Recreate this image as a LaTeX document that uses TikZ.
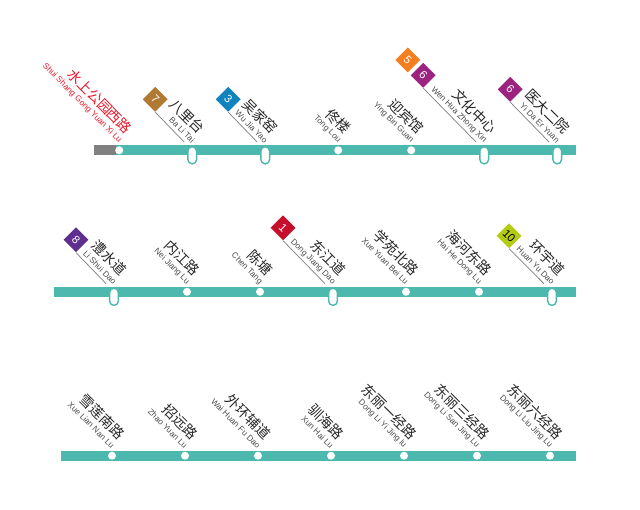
\documentclass[tikz,border=0pt]{standalone}
\usepackage{fontspec}
\setmainfont{Liberation Sans}
\newfontfamily\cnfont{Noto Sans CJK SC}
\usetikzlibrary{positioning,calc}
\usetikzlibrary{shapes.misc}
\definecolor{linea}{HTML}{4DB8AE}
\definecolor{lineoff}{HTML}{808080}
\definecolor{textred}{HTML}{E8192C}
\definecolor{brown7}{HTML}{B07A32}
\definecolor{blue3}{HTML}{1082BC}
\definecolor{orange5}{HTML}{F57F20}
\definecolor{purple6}{HTML}{9C2380}
\definecolor{purple8}{HTML}{5E2F8E}
\definecolor{red1}{HTML}{C60F2B}
\definecolor{green10}{HTML}{B4CB14}
\tikzset{
   on grid,
   bar/.style={line width=0.25cm,color=linea},
   stopdot/.style={circle,fill=white,inner sep=0pt,minimum size=0.2cm},
   xfer/.style={rounded rectangle,rounded rectangle arc length=180,rotate=90,draw=linea,line width=0.035cm,
      fill=white,inner sep=0pt,minimum width=0.43cm,minimum height=0.22cm},
   cnname/.style={font=\cnfont\fontsize{10}{12}\selectfont,text=black!85,inner sep=0pt,rotate=-45,anchor=east},
   pyname/.style={font=\fontsize{5.9}{7}\selectfont,text=black!70,inner sep=0pt,rotate=-45,anchor=east},
   badge/.style={rectangle,rotate=-45,inner sep=0pt,minimum size=0.44cm,text=white,font=\fontsize{8}{9}\selectfont},
   leader/.style={color=black!50,line width=0.018cm,shorten >=0.18cm},
}
\begin{document}
\begin{tikzpicture}
   \useasboundingbox (0,0) rectangle (16,12.725);

   % first row
   \coordinate (a0) at (2.35,8.9675);
   \coordinate (aj) at (2.9,8.9675);
   \coordinate (a8) at (14.4,8.9675);
   \draw[bar] (aj) -- (a8);
   \draw[bar,color=lineoff] (a0) -- (aj);

   \node[stopdot] (a1) at (2.98,8.9675) {};
   \node[stopdot,right=1.825cm of a1] (a2) {};
   \node[stopdot,right=1.825cm of a2] (a3) {};
   \node[stopdot,right=1.825cm of a3] (a4) {};
   \node[stopdot,right=1.825cm of a4] (a5) {};
   \node[stopdot,right=1.825cm of a5] (a6) {};
   \node[stopdot,right=1.825cm of a6] (a7) {};

   \node[badge,fill=brown7,above left=1.275cm and 0.925cm of a2] (ba2) {7};
   \node[badge,fill=blue3,above left=1.275cm and 0.925cm of a3] (ba3) {3};
   \node[badge,fill=purple6,above left=1.875cm and 1.525cm of a6] (ba6) {6};
   \node[badge,fill=orange5,above left=0.385cm and 0.385cm of ba6] (bb6) {5};
   \node[badge,fill=purple6,above left=1.525cm and 1.175cm of a7] (ba7) {6};

   \draw[leader] (ba2.south east) -- (a2);
   \draw[leader] (ba3.south east) -- (a3);
   \draw[leader] (ba6.south east) -- (a6);
   \draw[leader] (ba7.south east) -- (a7);

   \node[xfer,below=0.125cm of a2] (xa2) {};
   \node[xfer,below=0.125cm of a3] (xa3) {};
   \node[xfer,below=0.125cm of a6] (xa6) {};
   \node[xfer,below=0.125cm of a7] (xa7) {};

   \node[cnname,text=textred,above right=0.475cm and 0.265cm of a1,anchor=east] (na1) {水上公园西路};
   \node[pyname,text=textred,above right=0.22cm and 0.03cm of a1,anchor=east] (pa1) {Shui Shang Gong Yuan Xi Lu};
   \node[cnname,above right=0.475cm and 0.265cm of a2,anchor=east] (na2) {八里台};
   \node[pyname,above right=0.22cm and 0.03cm of a2,anchor=east] (pa2) {Ba Li Tai};
   \node[cnname,above right=0.475cm and 0.265cm of a3,anchor=east] (na3) {吴家窑};
   \node[pyname,above right=0.22cm and 0.03cm of a3,anchor=east] (pa3) {Wu Jia Yao};
   \node[cnname,above right=0.475cm and 0.265cm of a4,anchor=east] (na4) {佟楼};
   \node[pyname,above right=0.22cm and 0.03cm of a4,anchor=east] (pa4) {Tong Lou};
   \node[cnname,above right=0.475cm and 0.265cm of a5,anchor=east] (na5) {迎宾馆};
   \node[pyname,above right=0.22cm and 0.03cm of a5,anchor=east] (pa5) {Ying Bin Guan};
   \node[cnname,above right=0.475cm and 0.265cm of a6,anchor=east] (na6) {文化中心};
   \node[pyname,above right=0.22cm and 0.03cm of a6,anchor=east] (pa6) {Wen Hua Zhong Xin};
   \node[cnname,above right=0.475cm and 0.265cm of a7,anchor=east] (na7) {医大二院};
   \node[pyname,above right=0.22cm and 0.03cm of a7,anchor=east] (pa7) {Yi Da Er Yuan};

   % second row
   \coordinate (b0) at (1.34,5.43);
   \coordinate (b8) at (14.4,5.43);
   \draw[bar] (b0) -- (b8);

   \node[stopdot] (b1) at (2.85,5.43) {};
   \node[stopdot,right=1.825cm of b1] (b2) {};
   \node[stopdot,right=1.825cm of b2] (b3) {};
   \node[stopdot,right=1.825cm of b3] (b4) {};
   \node[stopdot,right=1.825cm of b4] (b5) {};
   \node[stopdot,right=1.825cm of b5] (b6) {};
   \node[stopdot,right=1.825cm of b6] (b7) {};

   \node[badge,fill=purple8,above left=1.3cm and 0.95cm of b1] (bb1) {8};
   \node[badge,fill=red1,above left=1.6cm and 1.25cm of b4] (bb4) {1};
   \node[badge,fill=green10,text=black,above left=1.4cm and 1.075cm of b7] (bb7) {10};

   \draw[leader] (bb1.south east) -- (b1);
   \draw[leader] (bb4.south east) -- (b4);
   \draw[leader] (bb7.south east) -- (b7);

   \node[xfer,below=0.125cm of b1] (xb1) {};
   \node[xfer,below=0.125cm of b4] (xb4) {};
   \node[xfer,below=0.125cm of b7] (xb7) {};

   \node[cnname,above right=0.475cm and 0.265cm of b1,anchor=east] (nb1) {澧水道};
   \node[pyname,above right=0.22cm and 0.03cm of b1,anchor=east] (pb1) {Li Shui Dao};
   \node[cnname,above right=0.475cm and 0.265cm of b2,anchor=east] (nb2) {内江路};
   \node[pyname,above right=0.22cm and 0.03cm of b2,anchor=east] (pb2) {Nei Jiang Lu};
   \node[cnname,above right=0.475cm and 0.265cm of b3,anchor=east] (nb3) {陈塘};
   \node[pyname,above right=0.22cm and 0.03cm of b3,anchor=east] (pb3) {Chen Tang};
   \node[cnname,above right=0.475cm and 0.265cm of b4,anchor=east] (nb4) {东江道};
   \node[pyname,above right=0.22cm and 0.03cm of b4,anchor=east] (pb4) {Dong Jiang Dao};
   \node[cnname,above right=0.475cm and 0.265cm of b5,anchor=east] (nb5) {学苑北路};
   \node[pyname,above right=0.22cm and 0.03cm of b5,anchor=east] (pb5) {Xue Yuan Bei Lu};
   \node[cnname,above right=0.475cm and 0.265cm of b6,anchor=east] (nb6) {海河东路};
   \node[pyname,above right=0.22cm and 0.03cm of b6,anchor=east] (pb6) {Hai He Dong Lu};
   \node[cnname,above right=0.475cm and 0.265cm of b7,anchor=east] (nb7) {环宇道};
   \node[pyname,above right=0.22cm and 0.03cm of b7,anchor=east] (pb7) {Huan Yu Dao};

   % third row
   \coordinate (c0) at (1.525,1.3325);
   \coordinate (c8) at (14.4,1.3325);
   \draw[bar] (c0) -- (c8);

   \node[stopdot] (c1) at (2.8,1.3325) {};
   \node[stopdot,right=1.825cm of c1] (c2) {};
   \node[stopdot,right=1.825cm of c2] (c3) {};
   \node[stopdot,right=1.825cm of c3] (c4) {};
   \node[stopdot,right=1.825cm of c4] (c5) {};
   \node[stopdot,right=1.825cm of c5] (c6) {};
   \node[stopdot,right=1.825cm of c6] (c7) {};

   \node[cnname,above right=0.475cm and 0.265cm of c1,anchor=east] (nc1) {雪莲南路};
   \node[pyname,above right=0.22cm and 0.03cm of c1,anchor=east] (pc1) {Xue Lian Nan Lu};
   \node[cnname,above right=0.475cm and 0.265cm of c2,anchor=east] (nc2) {招远路};
   \node[pyname,above right=0.22cm and 0.03cm of c2,anchor=east] (pc2) {Zhao Yuan Lu};
   \node[cnname,above right=0.475cm and 0.265cm of c3,anchor=east] (nc3) {外环辅道};
   \node[pyname,above right=0.22cm and 0.03cm of c3,anchor=east] (pc3) {Wai Huan Fu Dao};
   \node[cnname,above right=0.475cm and 0.265cm of c4,anchor=east] (nc4) {驯海路};
   \node[pyname,above right=0.22cm and 0.03cm of c4,anchor=east] (pc4) {Xun Hai Lu};
   \node[cnname,above right=0.475cm and 0.265cm of c5,anchor=east] (nc5) {东丽一经路};
   \node[pyname,above right=0.22cm and 0.03cm of c5,anchor=east] (pc5) {Dong Li Yi Jing lu};
   \node[cnname,above right=0.475cm and 0.265cm of c6,anchor=east] (nc6) {东丽三经路};
   \node[pyname,above right=0.22cm and 0.03cm of c6,anchor=east] (pc6) {Dong Li San Jing Lu};
   \node[cnname,above right=0.475cm and 0.265cm of c7,anchor=east] (nc7) {东丽六经路};
   \node[pyname,above right=0.22cm and 0.03cm of c7,anchor=east] (pc7) {Dong Li Liu Jing Lu};
\end{tikzpicture}
\end{document}
